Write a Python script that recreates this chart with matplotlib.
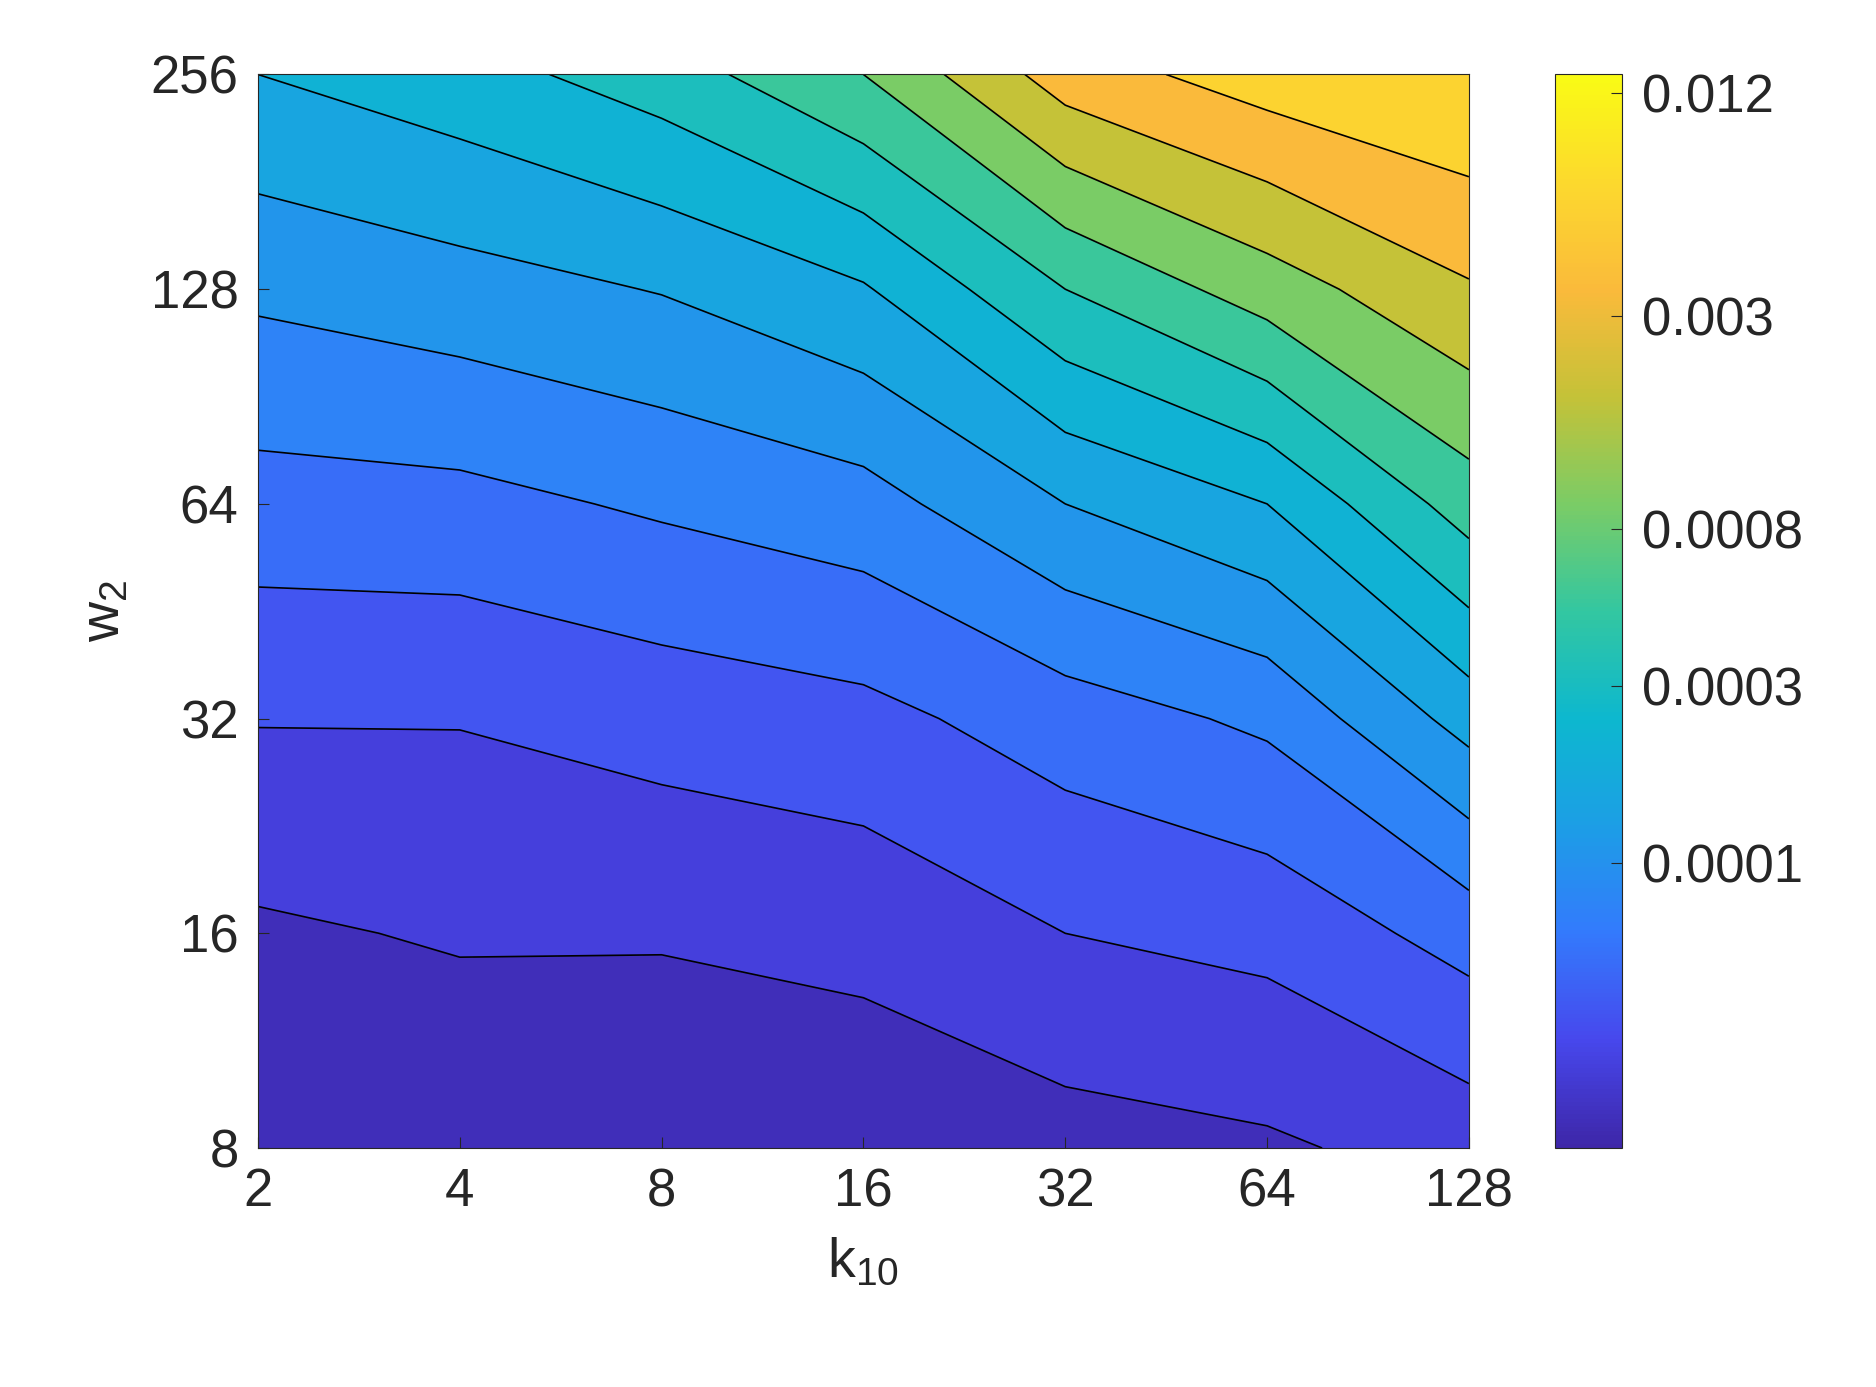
import numpy as np
import matplotlib
matplotlib.use('Agg')
import matplotlib.pyplot as plt
from matplotlib.colors import LinearSegmentedColormap, Normalize
import matplotlib.cm as cm

plt.rcParams['font.family'] = ['Liberation Sans', 'DejaVu Sans']
plt.rcParams['mathtext.fontset'] = 'custom'
plt.rcParams['mathtext.rm'] = 'Liberation Sans'
plt.rcParams['mathtext.it'] = 'Liberation Sans'

# grid: log2(k) along x, log2(w) along y
k_exp = [1, 2, 3, 4, 5, 6, 7]
w_exp = [3, 4, 5, 6, 7, 8]
# contour band index (rows = w, columns = k), 15 bands
level_index = np.array([
    [0.0, 0.2, 0.1, 0.3, 0.6, 0.85, 1.4],
    [0.85, 1.1, 1.1, 1.3, 2.0, 2.3, 3.4],
    [2.05, 2.05, 2.4, 2.7, 3.5, 4.2, 6.4],
    [3.6, 3.7, 4.15, 4.6, 6.0, 7.0, 9.5],
    [5.2, 5.6, 6.05, 6.9, 9.0, 10.5, 11.9],
    [7.0, 7.6, 8.5, 10.0, 12.5, 13.5, 14.0],
])
n_bands = 15
zmin, zmax = -4.77, -1.87
Z = zmin + level_index * (zmax - zmin) / n_bands  # log10 of error
cbar_ticks = [0.0001, 0.0003, 0.0008, 0.003, 0.012]
# where each band sits on the colormap
band_pos = [0.025, 0.075, 0.125, 0.175, 0.225, 0.275, 0.325, 0.375,
            0.44, 0.51, 0.6, 0.7, 0.8, 0.88, 0.96]

parula = LinearSegmentedColormap.from_list('parula', [
    (0.2422, 0.1504, 0.6603), (0.2780, 0.2820, 0.9300), (0.2000, 0.4800, 0.9900),
    (0.1100, 0.6200, 0.9000), (0.0500, 0.7200, 0.8100), (0.2000, 0.7800, 0.6300),
    (0.4800, 0.8000, 0.4000), (0.7700, 0.7600, 0.2200), (0.9800, 0.7300, 0.2300),
    (0.9900, 0.8500, 0.1800), (0.9769, 0.9839, 0.0805)])

fig = plt.figure(figsize=(18.76, 13.87), dpi=100)
ax = fig.add_axes([0.1375, 0.1723, 0.6455, 0.774])
cax = fig.add_axes([0.829, 0.1723, 0.0357, 0.774])

X, Y = np.meshgrid(k_exp, w_exp)
levels = np.linspace(zmin, zmax, n_bands + 1)
ax.contourf(X, Y, Z, levels=levels, colors=[parula(p) for p in band_pos])
ax.contour(X, Y, Z, levels=levels, colors='black', linewidths=1.2,
           linestyles='solid')

fs = 38
ax.set_xticks(k_exp, [str(2 ** e) for e in k_exp], fontsize=fs)
ax.set_yticks(w_exp, [str(2 ** e) for e in w_exp], fontsize=fs)
ax.tick_params(direction='in', length=8, colors='#262626', pad=14)
ax.set_xlabel('k$_{10}$', fontsize=fs + 2, color='#262626', labelpad=14)
ax.set_ylabel('w$_{2}$', fontsize=fs + 2, color='#262626', labelpad=14)
for s in ax.spines.values():
    s.set_color('#262626')

sm = cm.ScalarMappable(norm=Normalize(zmin, zmax), cmap=parula)
cb = fig.colorbar(sm, cax=cax)
cb.set_ticks(np.log10(cbar_ticks), labels=[str(t) for t in cbar_ticks])
cax.tick_params(labelsize=fs, direction='in', length=8, colors='#262626', pad=14)
cb.outline.set_edgecolor('#262626')

fig.savefig('out.png', dpi=100, facecolor='white')
